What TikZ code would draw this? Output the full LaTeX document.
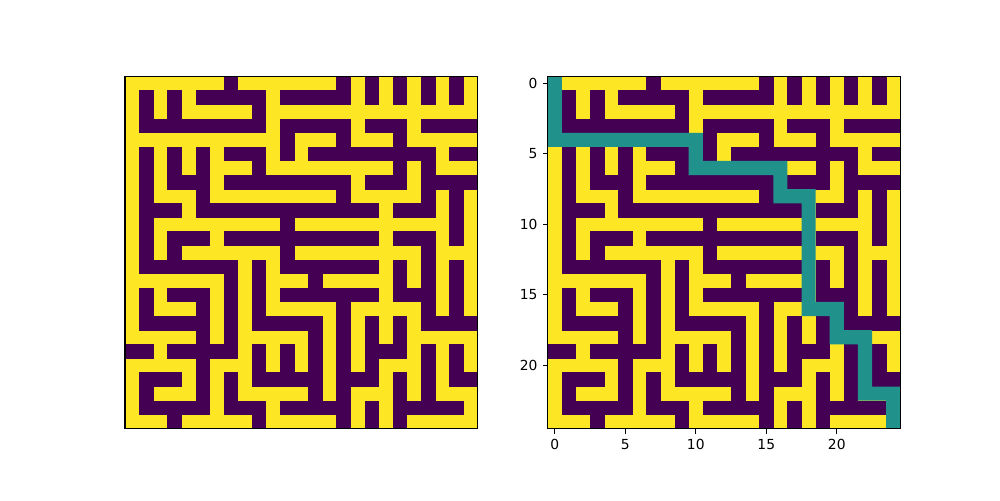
\documentclass[tikz,border=0pt]{standalone}
\usepackage{fontspec}
\setmainfont{DejaVu Sans}
\definecolor{mzopen}{HTML}{FDE725}
\definecolor{mzwall}{HTML}{440154}
\definecolor{mzpath}{HTML}{21918C}
\newcommand{\mazerows}{%
{0,0,0,0,0,0,0,1,0,0,0,0,0,0,0,1,0,1,0,1,0,1,0,1,0},%
{0,1,0,1,0,1,1,1,1,1,0,1,1,1,1,1,0,1,0,1,0,1,0,1,0},%
{0,1,0,1,0,0,0,0,0,1,0,0,0,0,0,0,0,0,0,0,0,0,0,0,0},%
{0,1,1,1,1,1,1,1,1,1,0,1,1,1,1,1,0,1,1,1,0,1,1,1,1},%
{0,0,0,0,0,0,0,0,0,0,0,1,0,0,0,1,0,0,0,1,0,0,0,0,0},%
{0,1,0,1,0,1,0,1,1,1,0,1,0,1,1,1,1,1,1,1,1,1,0,1,1},%
{0,1,0,1,0,1,0,0,0,1,0,0,0,0,0,0,0,0,0,1,0,1,0,0,0},%
{0,1,0,1,1,1,0,1,1,1,1,1,1,1,1,1,0,1,1,1,0,1,1,1,1},%
{0,1,0,0,0,1,0,0,0,0,0,0,0,0,0,1,0,0,0,0,0,1,0,1,0},%
{0,1,1,1,0,1,1,1,1,1,1,1,1,1,1,1,1,1,0,1,1,1,0,1,0},%
{0,1,0,0,0,0,0,0,0,0,0,1,0,0,0,0,0,0,0,0,0,0,0,1,0},%
{0,1,0,1,1,1,0,1,1,1,1,1,1,1,1,1,1,1,0,1,1,1,0,1,0},%
{0,1,0,1,0,0,0,0,0,0,0,1,0,0,0,0,0,0,0,0,0,1,0,0,0},%
{0,1,1,1,1,1,1,1,0,1,0,1,1,1,1,1,1,1,0,1,0,1,0,1,0},%
{0,0,0,0,0,0,0,1,0,1,0,0,0,1,0,0,0,0,0,1,0,1,0,1,0},%
{0,1,0,1,1,1,0,1,0,1,0,1,1,1,1,1,1,1,0,1,1,1,0,1,0},%
{0,1,0,0,0,1,0,1,0,1,0,0,0,0,0,1,0,0,0,0,0,1,0,1,0},%
{0,1,1,1,1,1,0,1,0,1,1,1,1,1,0,1,0,1,0,1,0,1,1,1,1},%
{0,0,0,0,0,1,0,1,0,0,0,0,0,1,0,1,0,1,0,1,0,0,0,0,0},%
{1,1,0,1,1,1,1,1,0,1,0,1,0,1,0,1,0,1,1,1,0,1,0,1,0},%
{0,0,0,0,0,1,0,0,0,1,0,1,0,1,0,1,0,1,0,0,0,1,0,1,0},%
{0,1,1,1,0,1,0,1,0,1,1,1,1,1,0,1,1,1,0,1,0,1,0,1,1},%
{0,1,0,0,0,1,0,1,0,0,0,0,0,1,0,1,0,0,0,1,0,1,0,0,0},%
{0,1,1,1,1,1,0,1,1,1,0,1,1,1,1,1,0,1,0,1,1,1,1,1,0},%
{0,0,0,1,0,0,0,0,0,1,0,0,0,0,0,1,0,1,0,1,0,0,0,0,0}}
\begin{document}
\begin{tikzpicture}[x=0.01in,y=-0.01in,line width=0.8pt]
    \useasboundingbox (0,0) rectangle (1000,500);
    \foreach \px [count=\p] in {125,547.73} {
      \begin{scope}[shift={(\px,76.36)},x=0.14091in,y=-0.14091in]
        \fill[mzopen] (0,0) rectangle (25,25);
        \foreach \row [count=\r from 0] in \mazerows {
          \foreach \v [count=\c from 0] in \row {
            \ifnum\v=1 \fill[mzwall] (\c,\r) rectangle ++(1.03,1.03); \fi
          }
        }
        \ifnum\p=2
          \fill[mzpath] (0,0) rectangle (1,5) (0,4) rectangle (11,5) (10,4) rectangle (11,7)
            (10,6) rectangle (17,7) (16,6) rectangle (17,9) (16,8) rectangle (19,9)
            (18,8) rectangle (19,17) (18,16) rectangle (21,17) (20,16) rectangle (21,19)
            (20,18) rectangle (23,19) (22,18) rectangle (23,23) (22,22) rectangle (25,23)
            (24,22) rectangle (25,25);
        \fi
        \draw (0,0) rectangle (25,25);
      \end{scope}
    }
    \begin{scope}[shift={(547.73,76.36)},x=0.14091in,y=-0.14091in]
      \foreach \k in {0,5,...,20} {
        \draw (\k+0.5,25) -- ++(0,-3.5pt) node[below,inner sep=0pt,yshift=-3.5pt] (xt\k) {\k};
        \draw (0,\k+0.5) -- ++(-3.5pt,0) node[left,inner sep=0pt,xshift=-3.5pt] (yt\k) {\k};
      }
    \end{scope}
  \end{tikzpicture}
\end{document}
